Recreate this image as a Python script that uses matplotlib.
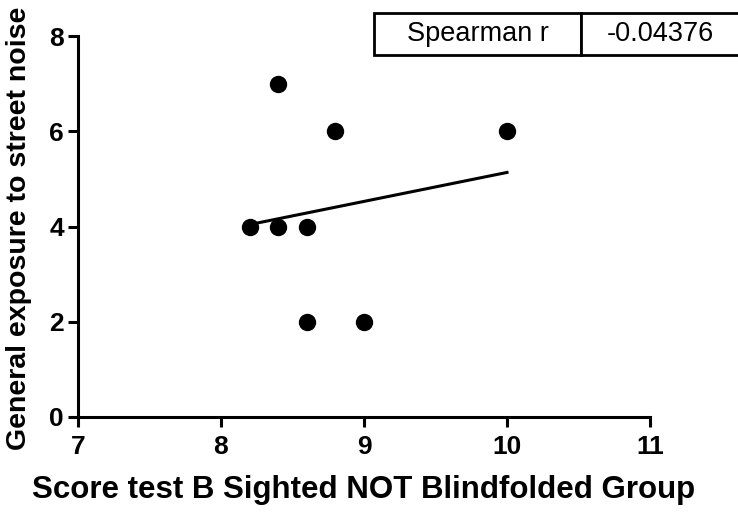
import numpy as np
import matplotlib
matplotlib.use("Agg")
import matplotlib.pyplot as plt

# data
score_b = [8.2, 8.4, 8.6, 8.4, 8.8, 10.0, 8.6, 9.0]
street_noise = [4, 4, 4, 7, 6, 6, 2, 2]
x_ticks = [7, 8, 9, 10, 11]
y_ticks = [0, 2, 4, 6, 8]
spearman_r = "-0.04376"

plt.rcParams["font.family"] = ["Liberation Sans", "DejaVu Sans"]

fig = plt.figure(figsize=(7.38, 5.12), dpi=100)
ax = fig.add_axes([78 / 738, 1 - 417 / 512, 572 / 738, 381 / 512])

# linear fit line over the data range
slope, icpt = np.polyfit(score_b, street_noise, 1)
xs = np.array([min(score_b), max(score_b)])
ax.plot(xs, slope * xs + icpt, color="black", lw=2.2, zorder=2)
ax.plot(score_b, street_noise, "o", color="black", ms=11.5, clip_on=False, zorder=3)

ax.set_xlim(7, 11)
ax.set_ylim(0, 8)
ax.set_xticks(x_ticks, labels=[str(v) for v in x_ticks], fontsize=19, fontweight="bold")
ax.set_yticks(y_ticks, labels=[str(v) for v in y_ticks], fontsize=19, fontweight="bold")
for s in ["top", "right"]:
    ax.spines[s].set_visible(False)
for s in ["left", "bottom"]:
    ax.spines[s].set_linewidth(2.2)
ax.tick_params(axis="both", direction="out", length=7, width=2.2)
ax.tick_params(axis="x", pad=6)
ax.tick_params(axis="y", pad=3)

ax.set_xlabel("Score test B Sighted NOT Blindfolded Group", fontsize=22.5,
              fontweight="bold")
ax.xaxis.set_label_coords(0.5, -0.152)
ax.set_ylabel("General exposure to street noise", fontsize=20.5, fontweight="bold")
ax.yaxis.set_label_coords(-0.08, 0.496)

# Spearman result box
tbl = ax.table(cellText=[["Spearman r", spearman_r]], cellLoc="center",
               colWidths=[207, 158], bbox=[0.5175, 0.950, 0.638, 0.110])
tbl.auto_set_font_size(False)
for cell in tbl.get_celld().values():
    cell.set_linewidth(2)
    cell.get_text().set_fontsize(19.5)
tbl.set_clip_on(False)

plt.savefig("out.png", dpi=100)
